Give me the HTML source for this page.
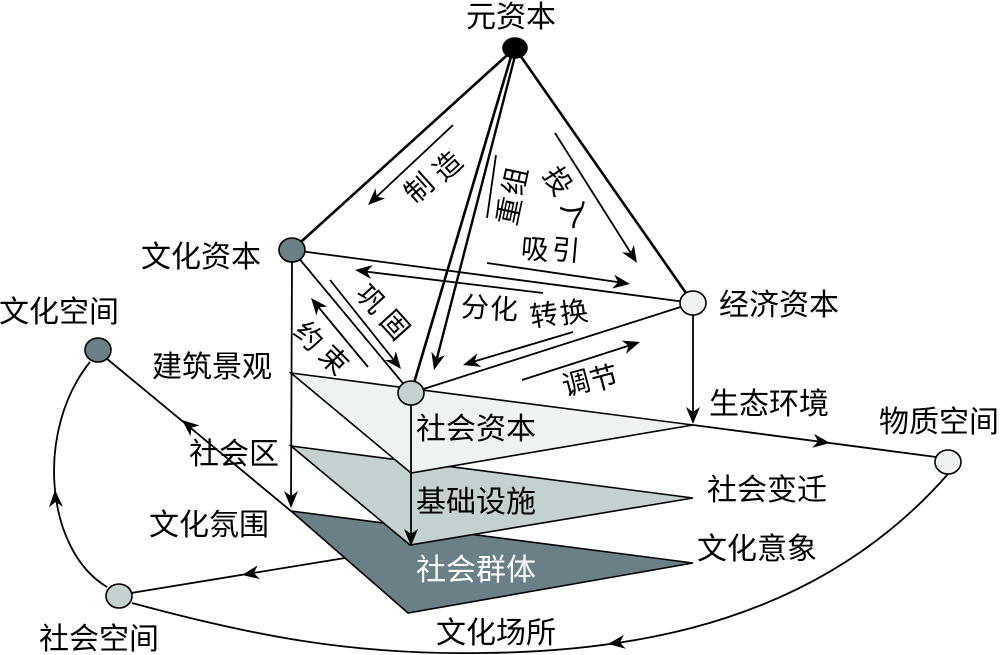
<!DOCTYPE html>
<html><head><meta charset="utf-8">
<style>
html,body{margin:0;padding:0;background:#fff;}
svg{display:block;}
text{font-family:"Liberation Sans","Noto Sans CJK SC",sans-serif;font-size:30px;fill:#000;}
.r{font-size:28px;}
</style></head><body>
<svg width="1000" height="655" viewBox="0 0 1000 655" xmlns="http://www.w3.org/2000/svg">
<rect x="0" y="0" width="1000" height="655" fill="#fff"/>

<!-- planes -->
<polygon points="291,511 693,563 408,613" fill="#6b7f87" stroke="#000" stroke-width="1.6"/>
<polygon points="291,446 693,498 410,545" fill="#c5d1d1" stroke="#000" stroke-width="1.6"/>
<polygon points="291,373 693,425 411,473" fill="#eef2f2" stroke="#000" stroke-width="1.6"/>

<g stroke="#000" fill="none">
  <!-- thick edges from 元资本 -->
  <line x1="515" y1="48" x2="292" y2="250" stroke-width="2.6"/>
  <line x1="515" y1="48" x2="693" y2="303" stroke-width="2.6"/>
  <line x1="513" y1="50" x2="411" y2="393" stroke-width="2.6"/>
  <line x1="516" y1="52" x2="436" y2="362" stroke-width="2.4"/>
  <!-- short segment near 重组 -->
  <line x1="496" y1="155" x2="487" y2="218" stroke-width="1.8"/>

  <!-- triangle edges -->
  <line x1="292" y1="250" x2="693" y2="303" stroke-width="1.8"/>
  <line x1="292" y1="250" x2="411" y2="393" stroke-width="1.8"/>
  <line x1="693" y1="303" x2="411" y2="393" stroke-width="1.8"/>

  <!-- verticals -->
  <line x1="292" y1="262" x2="291" y2="500" stroke-width="1.8"/>
  <line x1="411" y1="405" x2="411" y2="538" stroke-width="1.8"/>
  <line x1="693" y1="315" x2="693" y2="416" stroke-width="1.8"/>

  <!-- arrows between nodes -->
  <line x1="453" y1="125" x2="372" y2="201" stroke-width="1.8"/>
  <line x1="555" y1="133" x2="634" y2="258" stroke-width="1.8"/>
  <line x1="487" y1="263" x2="624" y2="283" stroke-width="1.8"/>
  <line x1="543" y1="293" x2="361" y2="271" stroke-width="1.8"/>
  <line x1="573" y1="332" x2="469" y2="363" stroke-width="1.8"/>
  <line x1="522" y1="380" x2="634" y2="344" stroke-width="1.8"/>
  <line x1="330" y1="280" x2="397" y2="364" stroke-width="1.8"/>
  <line x1="368" y1="367" x2="315" y2="303" stroke-width="1.8"/>

  <!-- to 物质空间 -->
  <line x1="693" y1="425" x2="936" y2="457" stroke-width="1.8"/>
  <!-- 文化空间 to plane3 corner -->
  <line x1="106" y1="358" x2="291" y2="511" stroke-width="1.8"/>
  <!-- 社会空间 to plane3 edge -->
  <line x1="131" y1="593" x2="345" y2="558" stroke-width="1.8"/>
  <!-- left curve -->
  <path d="M107,587 C45,550 35,430 90,362" stroke-width="1.8"/>
  <!-- bottom curve -->
  <path d="M132,603 C250,635 350,655 480,653 C640,652 820,620 948,474" stroke-width="1.8"/>
</g>

<!-- arrowheads -->
<g fill="#000">
  <path d="M0,0 L-17,-7 L-12,0 L-17,7 Z" transform="translate(368,205) rotate(136.7)"/>
  <path d="M0,0 L-17,-7 L-12,0 L-17,7 Z" transform="translate(434,370) rotate(104.2)"/>
  <path d="M0,0 L-17,-7 L-12,0 L-17,7 Z" transform="translate(637,263) rotate(57.8)"/>
  <path d="M0,0 L-17,-7 L-12,0 L-17,7 Z" transform="translate(630,284) rotate(8.4)"/>
  <path d="M0,0 L-17,-7 L-12,0 L-17,7 Z" transform="translate(355,270) rotate(187)"/>
  <path d="M0,0 L-17,-7 L-12,0 L-17,7 Z" transform="translate(463,365) rotate(163.3)"/>
  <path d="M0,0 L-17,-7 L-12,0 L-17,7 Z" transform="translate(640,342) rotate(-17.9)"/>
  <path d="M0,0 L-17,-7 L-12,0 L-17,7 Z" transform="translate(401,369) rotate(51.4)"/>
  <path d="M0,0 L-17,-7 L-12,0 L-17,7 Z" transform="translate(311,298) rotate(230.4)"/>
  <path d="M0,0 L-17,-7 L-12,0 L-17,7 Z" transform="translate(693,424) rotate(90)"/>
  <path d="M0,0 L-17,-7 L-12,0 L-17,7 Z" transform="translate(291,508) rotate(90)"/>
  <path d="M0,0 L-17,-7 L-12,0 L-17,7 Z" transform="translate(411,546) rotate(90)"/>
  <path d="M0,0 L-17,-7 L-12,0 L-17,7 Z" transform="translate(830,443) rotate(7.5)"/>
  <path d="M0,0 L-17,-7 L-12,0 L-17,7 Z" transform="translate(182,420) rotate(219.8)"/>
  <path d="M0,0 L-17,-7 L-12,0 L-17,7 Z" transform="translate(242,575) rotate(170.7)"/>
  <path d="M0,0 L-17,-7 L-12,0 L-17,7 Z" transform="translate(55,490) rotate(-93)"/>
  <path d="M0,0 L-17,-7 L-12,0 L-17,7 Z" transform="translate(608,644) rotate(172.5)"/>
</g>

<!-- nodes -->
<g stroke="#000" stroke-width="1.6">
  <ellipse cx="515" cy="48" rx="12" ry="10" fill="#000"/>
  <ellipse cx="292" cy="250" rx="13" ry="12" fill="#6b7f87"/>
  <ellipse cx="693" cy="303" rx="13" ry="12" fill="#eef2f2"/>
  <ellipse cx="411" cy="393" rx="13" ry="12" fill="#c5d1d1"/>
  <ellipse cx="98" cy="350" rx="13" ry="12" fill="#6b7f87"/>
  <ellipse cx="119" cy="596" rx="13" ry="12" fill="#c5d1d1"/>
  <ellipse cx="948" cy="462" rx="13" ry="12" fill="#eef2f2"/>
</g>

<!-- horizontal labels -->
<text x="466" y="27">元资本</text>
<text x="141" y="267">文化资本</text>
<text x="719" y="315">经济资本</text>
<text x="-1" y="322">文化空间</text>
<text x="152" y="377">建筑景观</text>
<text x="189" y="464">社会区</text>
<text x="149" y="535">文化氛围</text>
<text x="39" y="649">社会空间</text>
<text x="416" y="439">社会资本</text>
<text x="416" y="512">基础设施</text>
<text x="416" y="580" style="fill:#fff">社会群体</text>
<text x="709" y="414">生态环境</text>
<text x="879" y="432">物质空间</text>
<text x="707" y="500">社会变迁</text>
<text x="697" y="559">文化意象</text>
<text x="436" y="643">文化场所</text>

<!-- rotated labels (per character) -->
<text class="r" text-anchor="middle" x="0" y="10" transform="translate(419,188) rotate(-42)">制</text>
<text class="r" text-anchor="middle" x="0" y="10" transform="translate(447.5,166) rotate(-42)">造</text>
<text class="r" text-anchor="middle" x="0" y="10" transform="translate(509,211) rotate(-78)">重</text>
<text class="r" text-anchor="middle" x="0" y="10" transform="translate(515,181) rotate(-78)">组</text>
<text class="r" text-anchor="middle" x="0" y="10" transform="translate(558,181) rotate(58)">投</text>
<text class="r" text-anchor="middle" x="0" y="10" transform="translate(576,212) rotate(58)">入</text>
<text class="r" text-anchor="middle" x="0" y="10" transform="translate(535,249) rotate(5)">吸</text>
<text class="r" text-anchor="middle" x="0" y="10" transform="translate(566,250) rotate(5)">引</text>
<text class="r" text-anchor="middle" x="0" y="10" transform="translate(475,307) rotate(3)">分</text>
<text class="r" text-anchor="middle" x="0" y="10" transform="translate(504,309) rotate(3)">化</text>
<text class="r" text-anchor="middle" x="0" y="10" transform="translate(544,315) rotate(-8)">转</text>
<text class="r" text-anchor="middle" x="0" y="10" transform="translate(574,312) rotate(-8)">换</text>
<text class="r" text-anchor="middle" x="0" y="10" transform="translate(576,383) rotate(-15)">调</text>
<text class="r" text-anchor="middle" x="0" y="10" transform="translate(604,378) rotate(-15)">节</text>
<text class="r" text-anchor="middle" x="0" y="10" transform="translate(371,299) rotate(48)">巩</text>
<text class="r" text-anchor="middle" x="0" y="10" transform="translate(395,325) rotate(48)">固</text>
<text class="r" text-anchor="middle" x="0" y="10" transform="translate(309,336) rotate(45)">约</text>
<text class="r" text-anchor="middle" x="0" y="10" transform="translate(334,360) rotate(45)">束</text>
</svg>
</body></html>
